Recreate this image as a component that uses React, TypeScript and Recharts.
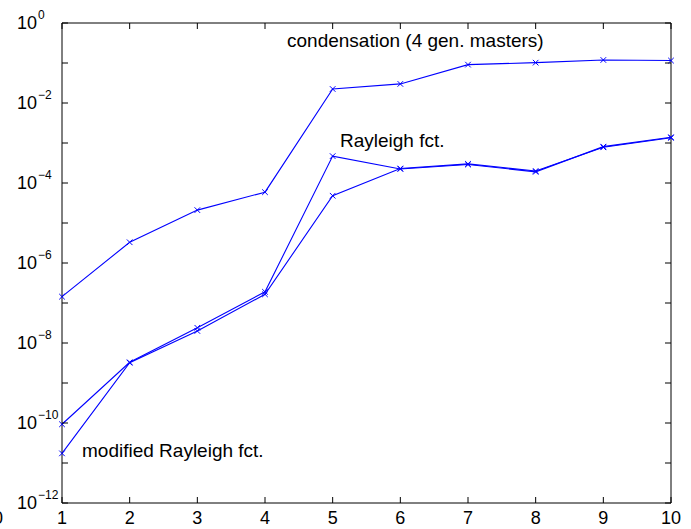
import { LineChart, Line, XAxis, YAxis } from 'recharts';

const steps = [1, 2, 3, 4, 5, 6, 7, 8, 9, 10];
const condensation = [1.44e-7, 3.3e-6, 2.1e-5, 5.9e-5, 2.24e-2, 3.0e-2, 9.1e-2, 1.02e-1, 1.19e-1, 1.15e-1];
const rayleigh = [9.3e-11, 3.3e-9, 2.4e-8, 1.9e-7, 4.7e-4, 2.24e-4, 2.9e-4, 1.9e-4, 8.1e-4, 1.39e-3];
const modRayleigh = [1.74e-11, 3.2e-9, 2.0e-8, 1.65e-7, 4.8e-5, 2.3e-4, 3.0e-4, 2.0e-4, 7.8e-4, 1.35e-3];
const yTicks = [1e-12, 1e-11, 1e-10, 1e-9, 1e-8, 1e-7, 1e-6, 1e-5, 1e-4, 1e-3, 1e-2, 1e-1, 1];

const data = steps.map((s, i) => ({
  s,
  cond: condensation[i],
  ray: rayleigh[i],
  mod: modRayleigh[i],
}));

const FONT = 'Liberation Sans, Arial, Helvetica, sans-serif';
const BLUE = '#0000ff';

const Cross = (props: any) => {
  const { cx, cy } = props;
  if (cx == null || cy == null) return null;
  const d = 2.8;
  return (
    <g stroke={BLUE} strokeWidth={1}>
      <line x1={cx - d} y1={cy - d} x2={cx + d} y2={cy + d} />
      <line x1={cx - d} y1={cy + d} x2={cx + d} y2={cy - d} />
    </g>
  );
};

const BottomTick = ({ x, y, payload }: any) => (
  <g>
    <line x1={x} y1={y} x2={x} y2={y - 6} stroke="#000" />
    <text x={x} y={y + 21} textAnchor="middle" fontFamily={FONT} fontSize={18} fill="#000">
      {payload.value}
    </text>
  </g>
);

const TopTick = ({ x, y }: any) => (
  <line x1={x} y1={y} x2={x} y2={y + 6} stroke="#000" />
);

const LeftTick = ({ x, y, payload }: any) => {
  const e = Math.round(Math.log10(payload.value));
  return (
    <g>
      <line x1={x} y1={y} x2={x + 6} y2={y} stroke="#000" />
      {e % 2 === 0 && (
        <text x={x - 45} y={y + 6} fontFamily={FONT} fontSize={18} fill="#000">
          10
          <tspan dx={1} dy={-10} fontSize={12}>
            {e < 0 ? '\u2212' + Math.abs(e) : String(e)}
          </tspan>
        </text>
      )}
    </g>
  );
};

const RightTick = ({ x, y }: any) => (
  <line x1={x} y1={y} x2={x - 6} y2={y} stroke="#000" />
);

export default function App() {
  return (
    <div style={{ position: 'absolute', left: 0, top: 0, width: 691, height: 529, background: '#fff' }}>
      <LineChart width={691} height={529} data={data} margin={{ top: 0, right: 0, bottom: 0, left: 0 }}>
        <XAxis xAxisId="b" dataKey="s" type="number" domain={[1, 10]} ticks={steps} height={26}
          tickSize={0} tickMargin={0} tickLine={false} axisLine={{ stroke: '#000' }} tick={<BottomTick />} />
        <XAxis xAxisId="t" orientation="top" dataKey="s" type="number" domain={[1, 10]} ticks={steps} height={23}
          tickSize={0} tickMargin={0} tickLine={false} axisLine={{ stroke: '#000' }} tick={<TopTick />} />
        <YAxis yAxisId="l" type="number" scale="log" domain={[1e-12, 1]} ticks={yTicks} width={62} allowDataOverflow
          tickSize={0} tickMargin={0} tickLine={false} axisLine={{ stroke: '#000' }} tick={<LeftTick />} />
        <YAxis yAxisId="r" orientation="right" type="number" scale="log" domain={[1e-12, 1]} ticks={yTicks} width={20} allowDataOverflow
          tickSize={0} tickMargin={0} tickLine={false} axisLine={{ stroke: '#000' }} tick={<RightTick />} />
        <Line xAxisId="b" yAxisId="l" type="linear" dataKey="cond" stroke={BLUE} strokeWidth={1.1} dot={<Cross />} activeDot={false} isAnimationActive={false} />
        <Line xAxisId="b" yAxisId="l" type="linear" dataKey="ray" stroke={BLUE} strokeWidth={1.1} dot={<Cross />} activeDot={false} isAnimationActive={false} />
        <Line xAxisId="b" yAxisId="l" type="linear" dataKey="mod" stroke={BLUE} strokeWidth={1.1} dot={<Cross />} activeDot={false} isAnimationActive={false} />
        <Line xAxisId="t" yAxisId="r" type="linear" dataKey="cond" stroke="none" dot={false} activeDot={false} isAnimationActive={false} />
      </LineChart>
      <svg width={691} height={529} style={{ position: 'absolute', left: 0, top: 0, pointerEvents: 'none' }}>
        <g fontFamily={FONT} fontSize={19} fill="#000">
          <text x={287} y={47}>condensation (4 gen. masters)</text>
          <text x={340} y={147}>Rayleigh fct.</text>
          <text x={82} y={457}>modified Rayleigh fct.</text>
        </g>
        <text x={-2} y={524} textAnchor="middle" fontFamily={FONT} fontSize={18} fill="#000">0</text>
      </svg>
    </div>
  );
}
